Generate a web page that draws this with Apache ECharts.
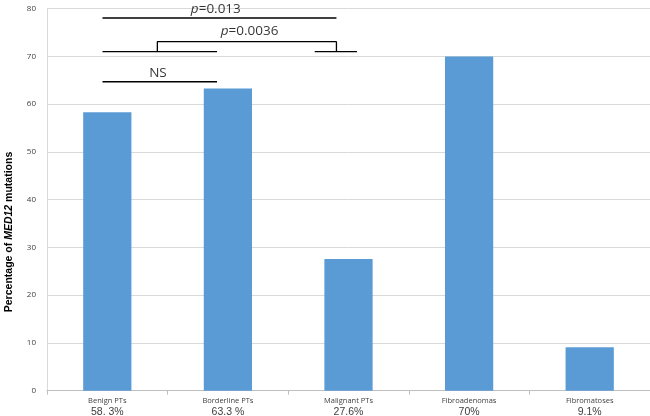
<!DOCTYPE html>
<html><head><meta charset="utf-8">
<script src="https://cdn.jsdelivr.net/npm/echarts@6/dist/echarts.min.js"></script>
<style>html,body{margin:0;padding:0;background:#fff}#c{width:650px;height:416px}</style>
</head><body><div id="c"></div>
<script>
const categories = ['Benign PTs', 'Borderline PTs', 'Malignant PTs', 'Fibroadenomas', 'Fibromatoses'];
const percentLabels = ['58. 3%', '63.3 %', '27.6%', '70%', '9.1%'];
const values = [58.3, 63.3, 27.6, 70, 9.1];
const yTicks = [0, 10, 20, 30, 40, 50, 60, 70, 80];
const yAxisTitle = ['Percentage of ', 'MED12', ' mutations'];
// significance annotations: [x (category index units), y (value)]
const bracketTop = [[-0.04, 78.05], [1.9, 78.05]];
const bracketMidLeft = [[-0.04, 71.0], [0.91, 71.0]];
const bracketMidConnector = [[0.415, 71.0], [0.415, 73.1], [1.9, 73.1], [1.9, 71.0]];
const bracketMidRight = [[1.72, 71.0], [2.07, 71.0]];
const bracketNS = [[-0.04, 64.7], [0.91, 64.7]];
const annotationTexts = [
  { pos: [0.9, 79.9], p: true, text: '=0.013' },
  { pos: [1.18, 75.2], p: true, text: '=0.0036' },
  { pos: [0.42, 66.4], p: false, text: 'NS' }
];

const chart = echarts.init(document.getElementById('c'));
const lineStyle = { color: '#000', width: 1.3 };
function seg(d) {
  return { type: 'line', xAxisIndex: 1, data: d, symbol: 'none', lineStyle: lineStyle, silent: true, z: 5, animation: false };
}
chart.setOption({
  animation: false,
  grid: { left: 47, right: 0, top: 8.7, bottom: 25.3, containLabel: false, outerBoundsMode: 'none' },
  graphic: [{
    type: 'text', x: 9, y: 232, rotation: Math.PI / 2,
    style: {
      text: '{n|' + yAxisTitle[0] + '}{i|' + yAxisTitle[1] + '}{n|' + yAxisTitle[2] + '}',
      align: 'center', verticalAlign: 'middle',
      rich: {
        n: { fontFamily: 'Liberation Sans', fontSize: 10.5, fontWeight: 'bold', fill: '#000' },
        i: { fontFamily: 'Liberation Sans', fontSize: 10.5, fontWeight: 'bold', fontStyle: 'italic', fill: '#000' }
      }
    }
  }],
  xAxis: [{
    type: 'category', data: categories,
    axisLine: { lineStyle: { color: '#bfbfbf' } },
    axisTick: { show: true, length: 4, lineStyle: { color: '#bfbfbf' } },
    axisLabel: {
      interval: 0, margin: 5,
      formatter: (v, i) => '{a|' + v + '}\n{b|' + percentLabels[i] + '}',
      rich: {
        a: { fontFamily: 'Open Sans', fontSize: 7.5, color: '#404040', lineHeight: 10 },
        b: { fontFamily: 'Liberation Sans', fontSize: 10.5, color: '#404040', lineHeight: 12 }
      }
    }
  }, {
    type: 'value', min: -0.5, max: 4.5, show: false
  }],
  yAxis: {
    type: 'value', min: 0, max: 80, interval: 10,
    axisLine: { show: true, onZero: false, lineStyle: { color: '#d9d9d9' } },
    axisTick: { show: false },
    splitLine: { lineStyle: { color: '#d9d9d9', width: 1 } },
    axisLabel: { fontFamily: 'Open Sans', fontSize: 8, color: '#404040', margin: 11,
      formatter: v => yTicks.includes(v) ? String(v) : '' }
  },
  series: [
    { type: 'bar', data: values, barWidth: '40%', itemStyle: { color: '#5b9bd5' }, z: 2 },
    seg(bracketTop), seg(bracketMidLeft), seg(bracketMidConnector), seg(bracketMidRight), seg(bracketNS),
    {
      type: 'scatter', xAxisIndex: 1, symbolSize: 0, silent: true, z: 6,
      data: annotationTexts.map(t => ({ value: t.pos, label: {
        show: true, position: 'inside',
        formatter: t.p ? '{i|p}{n|' + t.text + '}' : '{n|' + t.text + '}',
        rich: {
          i: { fontFamily: 'Open Sans', fontStyle: 'italic', fontSize: 13.5, color: '#000' },
          n: { fontFamily: 'Open Sans', fontSize: 13.5, color: '#000' }
        }
      } }))
    }
  ]
});
</script></body></html>
